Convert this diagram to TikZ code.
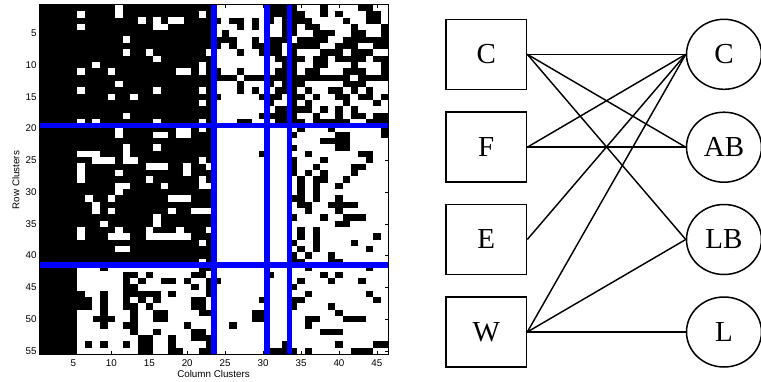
\documentclass[tikz,border=0pt]{standalone}
\usepackage{fontspec}
\setmainfont{Liberation Serif}
\newfontfamily\axfont{Liberation Sans}
\usetikzlibrary{shapes.geometric}
\makeatletter
\newcount\mrcol
\def\mrrow#1#2{\mrcol=0 \def\mr@r{#1}\mr@parse#2\relax}
\def\mr@parse#1{%
  \ifx#1\relax
  \else
    \advance\mrcol by 1
    \if#11%
      \fill[white] (\the\mrcol-1,\mr@r-1) rectangle ++(1.02,1.02);%
    \fi
    \expandafter\mr@parse
  \fi}
\makeatother
\tikzset{
  blueline/.style={draw={rgb,255:red,0;green,0;blue,255}, line width=5.5pt},
  ticklab/.style={font=\axfont\fontsize{9.8}{10}\selectfont, inner sep=0pt},
  cbox/.style={draw, line width=1.5pt, minimum width=80.5pt, minimum height=70pt, inner sep=0pt, font=\fontsize{29}{30}\selectfont},
  cell/.style={ellipse, draw, line width=1.5pt, minimum width=75pt, minimum height=70pt, inner sep=0pt, font=\fontsize{29}{30}\selectfont},
  link/.style={line width=1.45pt}
}
\begin{document}
\begin{tikzpicture}[x=1pt,y=-1pt]
\useasboundingbox (0,0) rectangle (761,381);
\fill[white] (0,0) rectangle (761,381);
\begin{scope}[shift={(39.3pt,-4.7pt)}, x=7.587pt, y=-6.35pt]
\fill[black] (0,0) rectangle (46,55);
\mrrow{1}{00000000001000000000000 1111111 000 0111011110011}
\mrrow{2}{00000100001000000000010 1111111 000 0011010111001}
\mrrow{3}{00000000000001010110000 0100101 010 0001111011001}
\mrrow{4}{00000100000000011000000 1110101 110 0100111101110}
\mrrow{5}{00000000000000000000000 1011111 110 0110001100110}
\mrrow{6}{00000000000100000000000 0001101 000 1000011000000}
\mrrow{7}{00000000000000000000000 0101100 001 0000110001100}
\mrrow{8}{00000000000100100000001 1110110 001 0111000100011}
\mrrow{9}{00000000000000010000000 1111111 100 0010010000100}
\mrrow{10}{00000001000000000000010 1111111 110 0110011101110}
\mrrow{11}{00000100010000000011010 0110111 100 0100111000110}
\mrrow{12}{00000000000000000000000 0001000 000 0000000010000}
\mrrow{13}{00000000001000000000000 1110111 010 0011111000111}
\mrrow{14}{00000100000000010000010 1110101 100 0101100101011}
\mrrow{15}{00000000010010000000000 0111110 001 0010110010010}
\mrrow{16}{00000000000000000000010 1111111 011 0101111011101}
\mrrow{17}{00000000000000000000000 1111111 100 0001010101111}
\mrrow{18}{00000000000100000000000 1111110 000 0110110100100}
\mrrow{19}{00000101000000010000010 1110011 100 0010000011000}
\mrrow{20}{00000000001000000011010 1111111 111 1011101111110}
\mrrow{21}{00000000001000011011000 1111111 111 0111110011110}
\mrrow{22}{00000000000000000000000 1111111 111 1111000011111}
\mrrow{23}{00000000000100010000000 1111111 111 0111110011111}
\mrrow{24}{00000111000100000000000 1111110 111 1101111110011}
\mrrow{25}{00000001110110000000010 1111111 111 0111011111011}
\mrrow{26}{00000100000000111001001 1111111 111 0110111100111}
\mrrow{27}{00000100001000000001000 1111111 111 0101011101111}
\mrrow{28}{00000100000000100000010 1111111 111 1010011011111}
\mrrow{29}{00000000001100001000011 1111111 111 1010110111111}
\mrrow{30}{00000000001000000000000 1111111 111 1010111111111}
\mrrow{31}{00000010010000000111000 1111111 111 0010110111111}
\mrrow{32}{00000001000000000000000 1111111 111 1001100001111}
\mrrow{33}{00000001010000000100111 1111111 111 1101110111111}
\mrrow{34}{00000000000000010000000 1111111 111 0111011000111}
\mrrow{35}{00000000100000010000000 1111111 111 1111110011111}
\mrrow{36}{00000100001000100010001 1111111 111 1010111111111}
\mrrow{37}{00000100011100111111000 1111111 111 1010111111101}
\mrrow{38}{00000000000000000000010 1111111 111 0110111101111}
\mrrow{39}{00000000001100000000000 1111111 111 1010111111011}
\mrrow{40}{00000000000000000000000 1111111 111 0101101111111}
\mrrow{41}{00000000000000000000010 1111111 111 0011100111111}
\mrrow{42}{00000 111011111111111100 1111111111 1101111111011}
\mrrow{43}{00000 111111001011111001 1111111011 1111010111111}
\mrrow{44}{00000 111111010110010110 0111111111 1011101110111}
\mrrow{45}{00000 111111001111111010 1111111111 0111111111111}
\mrrow{46}{00000 011011000001011110 1111111111 1101111111011}
\mrrow{47}{00000 001011010101111001 1111110111 0011111111101}
\mrrow{48}{00000 001011001011111001 1111111111 0111101111111}
\mrrow{49}{00000 111011101100111100 1111100111 1111110111111}
\mrrow{50}{00000 110001101100111111 1111100111 1100111000111}
\mrrow{51}{00000 111011001111110111 1101111111 1101111111111}
\mrrow{52}{00000 111111101101111001 1111111111 1111000111111}
\mrrow{53}{00000 111111110011011000 1111111111 1111111111111}
\mrrow{54}{00000 101011010011011110 1111111110 1111110111100}
\mrrow{55}{00000 111111110011001100 1111111000 0101111100011}
\draw[blueline] (23,0) -- (23,55);
\draw[blueline] (30,0) -- (30,55);
\draw[blueline] (33,0) -- (33,55);
\draw[blueline] (0,19) -- (46,19);
\draw[blueline] (0,41) -- (46,41);
\foreach \c in {5,10,...,45} {
  \draw[line width=0.5pt] (\c-0.5,55) -- ++(0,-0.535);
  \draw[line width=0.5pt] (\c-0.5,0) -- ++(0,0.535);
}
\foreach \r in {5,10,...,55} {
  \draw[line width=0.5pt] (0,\r-0.5) -- ++(0.45,0);
  \draw[line width=0.5pt] (46,\r-0.5) -- ++(-0.45,0);
}
\draw[line width=0.6pt] (0,0) rectangle (46,55);
\end{scope}
\foreach \c in {5,10,...,45}
  \node[ticklab, anchor=base] at ({39.3+(\c-0.5)*7.587},366.7) {\c};
\foreach \r in {5,10,...,55}
  \node[ticklab, anchor=east] at (36.7,{4.7+(\r-0.5)*6.35}) {\r};
\node[ticklab, anchor=base] (xl) at (213.5,377.7) {Column Clusters};
\node[ticklab, anchor=base, rotate=90] (yl) at (19.3,180) {Row Clusters};
% bipartite graph
\node[cbox] (bC) at (486.3,54.3) {C};
\node[cbox] (bF) at (486.3,147.2) {F};
\node[cbox] (bE) at (486.3,239.5) {E};
\node[cbox] (bW) at (486.3,332) {W};
\node[cell] (eC) at (724,54.3) {C};
\node[cell] (eAB) at (724,147.2) {AB};
\node[cell] (eLB) at (724,239.5) {LB};
\node[cell] (eL) at (724,332) {L};
\draw[link] (bC.east) -- (eC.west);
\draw[link] (bC.east) -- (eAB.west);
\draw[link] (bC.east) -- (eLB.west);
\draw[link] (bF.east) -- (eC.west);
\draw[link] (bF.east) -- (eAB.west);
\draw[link] (bE.east) -- (eC.west);
\draw[link] (bW.east) -- (eC.west);
\draw[link] (bW.east) -- (eLB.west);
\draw[link] (bW.east) -- (eL.west);
\end{tikzpicture}
\end{document}
